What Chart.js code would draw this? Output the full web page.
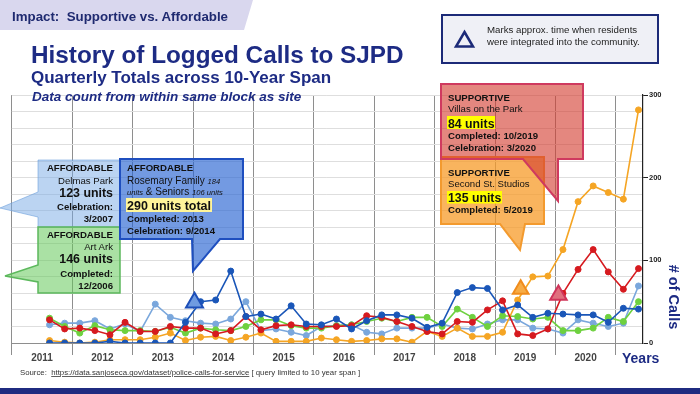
<!DOCTYPE html>
<html>
<head>
<meta charset="utf-8">
<script src="https://cdn.jsdelivr.net/npm/chart.js@4.4.1/dist/chart.umd.min.js"></script>
<style>
  html, body { margin: 0; padding: 0; }
  body { width: 700px; height: 394px; position: relative; overflow: hidden; background: #fff; font-family: "Liberation Sans", Arial, sans-serif; }
  #wrap { position: absolute; left: 0; top: 0; width: 700px; height: 394px; }
  #over { position: absolute; left: 0; top: 0; pointer-events: none; }
  #over text { font-family: "Liberation Sans", Arial, sans-serif; white-space: pre; }
</style>
</head>
<body>
<div id="wrap"><canvas id="myChart"></canvas></div>

<svg id="over" width="700" height="394" viewBox="0 0 700 394">
  <!-- header tab -->
  <path d="M0,0 H253 L244,30 H0 Z" fill="#d9d7ee"/>
  <text x="12" y="21" font-size="13.3" font-weight="bold" fill="#1f2a70" xml:space="preserve">Impact:  Supportive vs. Affordable</text>

  <!-- titles -->
  <text x="31" y="63" font-size="24.3" font-weight="bold" fill="#1d2b84">History of Logged Calls to SJPD</text>
  <text x="31" y="83" font-size="17" font-weight="bold" fill="#1d2b84">Quarterly Totals across 10-Year Span</text>
  <text x="32" y="100.5" font-size="13.5" font-weight="bold" font-style="italic" fill="#1d2b84">Data count from within same block as site</text>

  <!-- marker legend box -->
  <rect x="442" y="15" width="216" height="48" fill="#eff0f6" stroke="#1c2a78" stroke-width="2"/>
  <path d="M464.5,32 L473,46.5 L456,46.5 Z" fill="none" stroke="#1c2a78" stroke-width="2.5" stroke-linejoin="miter"/>
  <text x="487" y="33" font-size="9.7" fill="#222">Marks approx. time when residents</text>
  <text x="487" y="45" font-size="9.7" fill="#222">were integrated into the community.</text>

  <!-- Delmas Park -->
  <path d="M38,160 H120 V227 H38 V217 L0,208 L38,192 Z" fill="rgba(120,170,230,0.5)" stroke="rgba(110,160,220,0.6)" stroke-width="1"/>
  <g font-size="9.6" font-weight="bold" fill="#111" text-anchor="end">
    <text x="113" y="171">AFFORDABLE</text>
    <text x="113" y="184" font-weight="normal">Delmas Park</text>
    <text x="113" y="196.5" font-size="12.4">123 units</text>
    <text x="113" y="210">Celebration:</text>
    <text x="113" y="222">3/2007</text>
  </g>

  <!-- Art Ark -->
  <path d="M38,227 H120 V293 H38 V282 L5,276 L38,265 Z" fill="rgba(100,200,90,0.55)" stroke="#5cb85c" stroke-width="1.5"/>
  <g font-size="9.6" font-weight="bold" fill="#111" text-anchor="end">
    <text x="113" y="238">AFFORDABLE</text>
    <text x="113" y="250" font-weight="normal">Art Ark</text>
    <text x="113" y="263" font-size="12.4">146 units</text>
    <text x="113" y="277">Completed:</text>
    <text x="113" y="288.5">12/2006</text>
  </g>

  <!-- Rosemary -->
  <path d="M120,159 H243 V239 H220 L193,271 L192,239 H120 Z" fill="rgba(40,100,210,0.65)" stroke="#1f4fbf" stroke-width="2"/>
  <rect x="126" y="198" width="86" height="14" fill="#fff59a"/>
  <g font-size="9.6" font-weight="bold" fill="#111">
    <text x="127" y="171">AFFORDABLE</text>
    <text x="127" y="184" font-weight="normal" font-size="10">Rosemary Family <tspan font-style="italic" font-size="7.6">184</tspan></text>
    <text x="127" y="195" font-weight="normal" font-size="10"><tspan font-style="italic" font-size="7.6">units</tspan> &amp; Seniors <tspan font-style="italic" font-size="7.6">106 units</tspan></text>
    <text x="127" y="210" font-size="12.5">290 units total</text>
    <text x="127" y="222">Completed: 2013</text>
    <text x="127" y="233.5">Celebration: 9/2014</text>
  </g>

  <!-- Second St. Studios -->
  <path d="M441,157 H544 V224 H525 L520,250 L500,224 H441 Z" fill="rgba(247,155,40,0.75)" stroke="#f39a2e" stroke-width="2"/>
  <!-- Villas on the Park -->
  <path d="M441,84 H583 V159 H558 V201 L523,159 H441 Z" fill="rgba(212,62,48,0.62)" stroke="#cf3a5f" stroke-width="2"/>
  <rect x="447" y="116" width="48" height="13" fill="#ffff00"/>
  <rect x="447" y="191" width="55" height="12.5" fill="#ffff00"/>
  <g font-size="9.6" font-weight="bold" fill="#111">
    <text x="448" y="100.5">SUPPORTIVE</text>
    <text x="448" y="112" font-weight="normal">Villas on the Park</text>
    <text x="448" y="127.5" font-size="12.3">84 units</text>
    <text x="448" y="139">Completed: 10/2019</text>
    <text x="448" y="150.5">Celebration: 3/2020</text>
    <text x="448" y="175.5">SUPPORTIVE</text>
    <text x="448" y="187" font-weight="normal">Second St. Studios</text>
    <text x="448" y="201.5" font-size="12.3">135 units</text>
    <text x="448" y="212.5">Completed: 5/2019</text>
  </g>

  <!-- axis titles -->
  <text transform="translate(674,297) rotate(90)" text-anchor="middle" dominant-baseline="central" font-size="14.5" font-weight="bold" fill="#1d2b84"># of Calls</text>
  <text x="622" y="363" font-size="14" font-weight="bold" fill="#1d2b84">Years</text>

  <!-- source -->
  <text x="20" y="375" font-size="7.8" fill="#333" xml:space="preserve">Source:  <tspan text-decoration="underline">https://data.sanjoseca.gov/dataset/police-calls-for-service</tspan> [ query limited to 10 year span ]</text>

  <rect x="0" y="388" width="700" height="6" fill="#1f2b80"/>
</svg>

<script>
// Years on the axis, one label per year (4 quarters each)
const years = ["2011", "2012", "2013", "2014", "2015", "2016", "2017", "2018", "2019", "2020"];
const quarters = years.flatMap(y => ["Q1", "Q2", "Q3", "Q4"].map(q => y + " " + q));

// Quarterly call totals per site
const darkBlue = [0, 0, 0, 0, 2, 0, 0, 0, 0, 25, 50, 52, 87, 32, 35, 29, 45, 23, 22, 29,
                  17, 27, 34, 34, 30, 19, 24, 61, 67, 66, 40, 46, 31, 36, 35, 34, 34, 25, 42, 41];
const lightBlue = [22, 24, 24, 27, 17, 23, 14, 47, 31, 27, 24, 23, 29, 50, 15, 17, 13, 9, 20, 21,
                   22, 13, 11, 18, 18, 18, 23, 18, 17, 23, 28, 28, 18, 17, 12, 28, 24, 20, 24, 69];
const red = [28, 17, 18, 15, 10, 25, 14, 14, 20, 18, 18, 11, 15, 32, 16, 21, 22, 20, 20, 20,
             21, 33, 31, 26, 20, 14, 11, 26, 25, 40, 51, 11, 9, 17, 60, 89, 113, 86, 65, 90];
const green = [30, 20, 12, 21, 16, 15, 15, 14, 19, 12, 18, 16, 15, 20, 28, 28, 21, 18, 18, 21,
               22, 26, 30, 26, 31, 31, 20, 41, 31, 20, 33, 32, 29, 31, 15, 15, 18, 31, 26, 50];
const orange = [3, 1, 0, 1, 4, 4, 4, 7, 12, 3, 7, 8, 3, 7, 12, 2, 2, 2, 6, 4,
                2, 3, 5, 5, 1, 14, 8, 18, 8, 8, 13, 52, 80, 81, 113, 171, 190, 182, 174, 282];

// "residents integrated" triangles (quarter position, calls)
const markerX = [9.6, 31.2, 33.7];
const markerY = [49, 65, 58];

// y axis labels
const yTicks = [0, 100, 200, 300];

const pts = arr => arr.map((v, i) => ({ x: i, y: v }));
const isSep = v => Math.abs(((v + 2.5) % 4)) < 0.001;

const lineSet = (data, color) => ({
    data: pts(data),
    borderColor: color,
    backgroundColor: color,
    borderWidth: 1.6,
    pointRadius: 3,
    pointBorderWidth: 1,
    tension: 0
});

const ctx = document.getElementById("myChart").getContext("2d");
new Chart(ctx, {
    type: 'line',
    data: {
        datasets: [
            {
                type: 'scatter',
                data: markerX.map((x, i) => ({ x: x, y: markerY[i] })),
                pointStyle: 'triangle',
                pointRadius: [9.8, 9, 9.5],
                backgroundColor: ['#6f9be0', '#f7ac45', '#e0707e'],
                borderColor: ['#1d4fb8', '#f08c1c', '#d0345a'],
                borderWidth: 2,
                showLine: false
            },
            lineSet(darkBlue, '#1a56b8'),
            lineSet(red, '#d61a1f'),
            lineSet(orange, '#f5a524'),
            lineSet(green, '#6ed13f'),
            lineSet(lightBlue, '#7aa7dc')
        ]
    },
    options: {
        responsive: true,
        maintainAspectRatio: false,
        animation: false,
        devicePixelRatio: 1,
        layout: { padding: { top: 95, left: 8, right: 0, bottom: 0 } },
        plugins: {
            legend: { display: false },
            tooltip: { enabled: false }
        },
        scales: {
            x: {
                type: 'linear',
                min: -2.5,
                max: 39.3,
                afterFit: s => { s.height = 51; },
                afterBuildTicks: axis => {
                    const t = [];
                    for (let k = 0; k <= years.length; k++) t.push({ value: -2.5 + 4 * k });
                    years.forEach((y, k) => t.push({ value: -0.5 + 4 * k }));
                    axis.ticks = t.sort((a, b) => a.value - b.value);
                },
                grid: {
                    color: c => (c.tick && isSep(c.tick.value)) ? '#8e8e8e' : 'rgba(0,0,0,0)',
                    tickColor: c => (c.tick && isSep(c.tick.value)) ? '#8e8e8e' : 'rgba(0,0,0,0)',
                    tickLength: 12
                },
                border: { display: true, color: '#8e8e8e' },
                ticks: {
                    autoSkip: false,
                    maxRotation: 0,
                    padding: -3,
                    color: '#444',
                    font: { family: 'Liberation Sans', size: 10, weight: 'bold' },
                    callback: v => {
                        const k = (v + 0.5) / 4;
                        return Number.isInteger(k) && years[k] ? years[k] : '';
                    }
                }
            },
            y: {
                position: 'right',
                min: 0,
                max: 300,
                afterFit: s => { s.width = 57; },
                grid: {
                    color: '#dedede',
                    tickColor: c => (c.tick && yTicks.includes(c.tick.value)) ? '#222' : 'rgba(0,0,0,0)',
                    tickLength: 5
                },
                border: { display: true, color: '#222', width: 1.2 },
                ticks: {
                    stepSize: 20,
                    autoSkip: false,
                    padding: 1,
                    color: '#222',
                    font: { family: 'Liberation Sans', size: 7.5, weight: 'bold' },
                    callback: v => yTicks.includes(v) ? String(v) : ''
                }
            }
        }
    }
});
</script>
</body>
</html>
